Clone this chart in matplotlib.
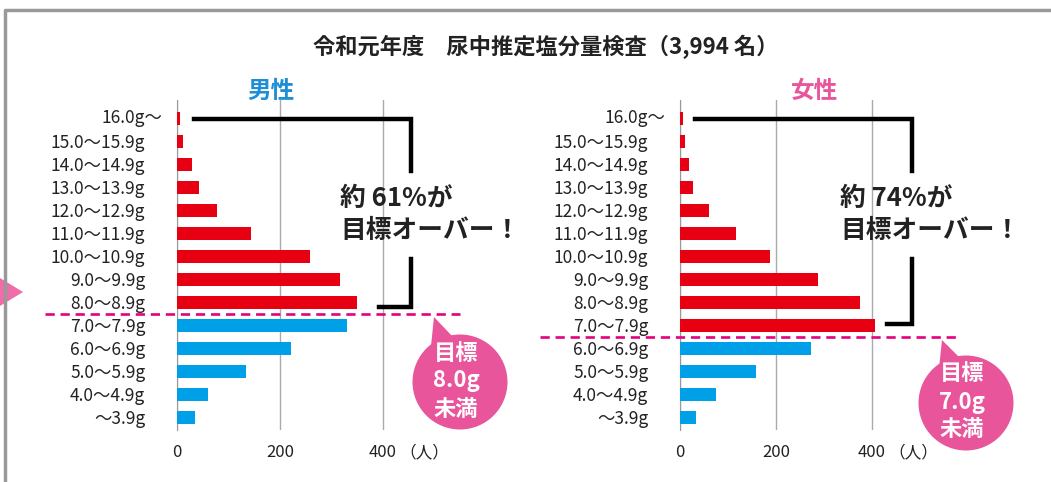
import numpy as np
import matplotlib.pyplot as plt
from matplotlib.patches import Circle, Polygon
from matplotlib.lines import Line2D

plt.rcParams['font.family'] = ['Noto Sans CJK JP', 'DejaVu Sans']

# データ (人数, 図から読み取り)
cats = ["16.0g〜", "15.0〜15.9g", "14.0〜14.9g", "13.0〜13.9g", "12.0〜12.9g",
        "11.0〜11.9g", "10.0〜10.9g", "9.0〜9.9g", "8.0〜8.9g", "7.0〜7.9g",
        "6.0〜6.9g", "5.0〜5.9g", "4.0〜4.9g", "〜3.9g"]
male = [5, 12, 29, 42, 77, 143, 258, 316, 349, 330, 221, 134, 60, 34]
female = [6, 10, 18, 27, 60, 116, 188, 288, 375, 407, 273, 158, 74, 33]
male_over = 9      # 8.0g以上の区分数
female_over = 10   # 7.0g以上の区分数
xticks = [0, 200, 400]

RED = '#E60012'
BLUE = '#00A0E9'
PINK = '#E8559A'
MAGENTA = '#E4007F'

W, H = 1051, 482
fig = plt.figure(figsize=(W / 100, H / 100), dpi=100)


def draw_panel(left_px, right_px, values, n_over, dash_from, dash_to):
    # 0..560 の範囲をピクセル位置で配置
    ax = fig.add_axes([left_px / W, 52 / H, (right_px - left_px) / W, 330 / H])
    y = np.arange(len(cats))
    colors = [RED if i < n_over else BLUE for i in y]
    ax.barh(y, values, height=0.56, color=colors, zorder=3)
    ax.set_xlim(0, 560)
    ax.set_ylim(len(cats) - 0.45, -0.8)
    ax.set_xticks(xticks)
    ax.set_xticklabels([str(v) for v in xticks])
    ax.set_yticks(y)
    ax.set_yticklabels([""] + cats[1:])
    ax.grid(axis='x', color='#AAAAAA', lw=1, zorder=1)
    for s in ['top', 'right', 'bottom']:
        ax.spines[s].set_visible(False)
    ax.spines['left'].set_color('#999999')
    ax.spines['left'].set_zorder(2)
    ax.tick_params(axis='y', length=0, labelsize=12.5, pad=23, colors='#222222')
    ax.tick_params(axis='x', length=0, labelsize=12, pad=10, colors='#222222')
    # 16.0g〜 だけ右にはみ出す
    ax.annotate(cats[0], xy=(0, 0), xycoords=('axes fraction', 'data'),
                xytext=(-11, 0), textcoords='offset points', ha='right', va='center',
                fontsize=12.5, color='#222222')
    ax.annotate("（人）", xy=(400, 0), xycoords=('data', 'axes fraction'),
                xytext=(12, -10), textcoords='offset points', ha='left', va='top',
                fontsize=12, color='#222222')
    # 目標ライン
    ax.plot([dash_from, dash_to], [n_over - 0.5, n_over - 0.5], ls=(0, (3.5, 2.2)), lw=1.9,
            color=MAGENTA, clip_on=False, zorder=4)
    return ax


axm = draw_panel(177.3, 177.3 + 560 * 0.5142, male, male_over, -257, 550)
axf = draw_panel(680.3, 680.3 + 560 * 0.4785, female, female_over, -293, 580)

# かっこ
axm.plot([32, 454, 454], [0.03, 0.03, 2.3], color='black', lw=3.2,
         solid_joinstyle='miter', clip_on=False, zorder=5)
axm.plot([454, 454, 392], [6.1, 8.2, 8.2], color='black', lw=3.2,
         solid_joinstyle='miter', clip_on=False, zorder=5)
axf.plot([31, 484, 484], [0.03, 0.03, 2.3], color='black', lw=3.2,
         solid_joinstyle='miter', clip_on=False, zorder=5)
axf.plot([484, 484, 432], [6.1, 8.95, 8.95], color='black', lw=3.2,
         solid_joinstyle='miter', clip_on=False, zorder=5)

# 重ね書き用 (ピクセル座標)
ov = fig.add_axes([0, 0, 1, 1], zorder=10)
ov.set_xlim(0, W)
ov.set_ylim(H, 0)
ov.axis('off')

ov.add_line(Line2D([5, 5, W + 10], [H + 10, 10, 10], color='#999999', lw=2.5))
ov.add_patch(Polygon([(0, 278), (0, 306), (23, 292)], closed=True, color='#EF6DA8', lw=0))

ov.text(546, 47, "令和元年度　尿中推定塩分量検査（3,994 名）", ha='center', va='center',
        fontsize=16, fontweight='bold', color='#222222')
ov.text(271, 91, "男性", ha='center', va='center', fontsize=17, fontweight='bold', color='#1E8FD5')
ov.text(815, 91, "女性", ha='center', va='center', fontsize=17, fontweight='bold', color=PINK)

for x0, pct in [(340, "61"), (840, "74")]:
    ov.text(x0, 198, f"約 {pct}%が", ha='left', va='center', fontsize=18.5,
            fontweight='bold', color='#222222')
    ov.text(x0, 230, "目標オーバー！", ha='left', va='center', fontsize=18.5,
            fontweight='bold', color='#222222')

for cx, cy, tip, base, goal in [(460, 382, (434, 317), [(431, 346), (453, 337)], "8.0g"),
                                 (966, 403, (942, 340), [(939, 368), (960, 358)], "7.0g")]:
    ov.add_patch(Circle((cx, cy), 47.5, color=PINK, lw=0))
    ov.add_patch(Polygon([tip] + base, closed=True, color=PINK, lw=0))
    for dy, s in [(-29, "目標"), (-1, goal), (27, "未満")]:
        ov.text(cx - 4, cy + dy, s, ha='center', va='center', fontsize=16,
                fontweight='bold', color='white')

fig.savefig('out.png', dpi=100)
